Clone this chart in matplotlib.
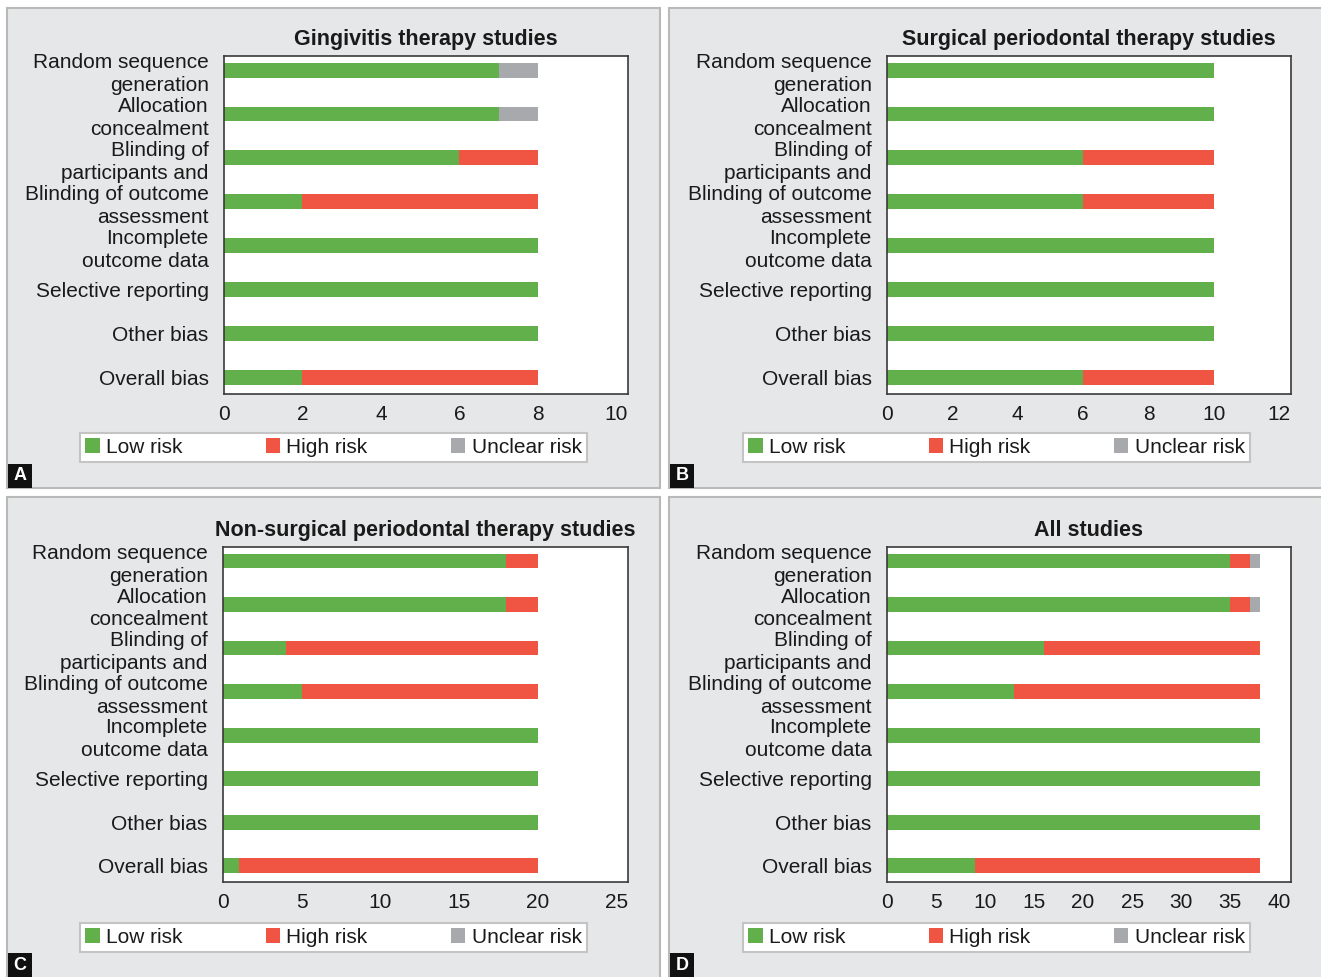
"""Risk-of-bias summary, four panels (A-D)."""
import matplotlib
matplotlib.use("Agg")
import matplotlib.pyplot as plt
from matplotlib.patches import Rectangle, Patch
import numpy as np

plt.rcParams["font.family"] = ["Liberation Sans", "DejaVu Sans"]

# ── Data ──────────────────────────────────────────────────────────────────
categories = ["Random sequence\ngeneration", "Allocation\nconcealment",
              "Blinding of\nparticipants and", "Blinding of outcome\nassessment",
              "Incomplete\noutcome data", "Selective reporting",
              "Other bias", "Overall bias"]

gingivitis_low = [7, 7, 6, 2, 8, 8, 8, 2]
gingivitis_high = [0, 0, 2, 6, 0, 0, 0, 6]
gingivitis_unclear = [1, 1, 0, 0, 0, 0, 0, 0]

surgical_low = [10, 10, 6, 6, 10, 10, 10, 6]
surgical_high = [0, 0, 4, 4, 0, 0, 0, 4]
surgical_unclear = [0, 0, 0, 0, 0, 0, 0, 0]

nonsurgical_low = [18, 18, 4, 5, 20, 20, 20, 1]
nonsurgical_high = [2, 2, 16, 15, 0, 0, 0, 19]
nonsurgical_unclear = [0, 0, 0, 0, 0, 0, 0, 0]

all_low = [35, 35, 16, 13, 38, 38, 38, 9]
all_high = [2, 2, 22, 25, 0, 0, 0, 29]
all_unclear = [1, 1, 0, 0, 0, 0, 0, 0]

titles = ["Gingivitis therapy studies", "Surgical periodontal therapy studies",
          "Non-surgical periodontal therapy studies", "All studies"]
xticks = [[0, 2, 4, 6, 8, 10], [0, 2, 4, 6, 8, 10, 12],
          [0, 5, 10, 15, 20, 25], [0, 5, 10, 15, 20, 25, 30, 35, 40]]
letters = ["A", "B", "C", "D"]

# ── Style ─────────────────────────────────────────────────────────────────
GREEN = "#62b04b"
RED = "#f05442"
GREY = "#a7a9ac"
PANEL = "#e6e7e8"
EDGE = "#b9b9b9"
TXT = "#1a1a1a"
FS = 15

W, H = 1321, 977
fig = plt.figure(figsize=(W / 100, H / 100), dpi=100)
fig.patch.set_facecolor("white")

def fx(px):
    return px / W

def fy(py):
    return 1 - py / H

# panel backgrounds (x0, y0, x1, y1 in px)
panels = [(7, 8, 660, 488), (669, 8, 1330, 488),
          (7, 497, 660, 985), (669, 497, 1330, 985)]
for x0, y0, x1, y1 in panels:
    fig.patches.append(Rectangle((fx(x0), fy(y1)), fx(x1 - x0), (y1 - y0) / H,
                                 transform=fig.transFigure, facecolor=PANEL,
                                 edgecolor=EDGE, linewidth=1.5, zorder=-5))

# axes boxes in px: left, top, right, bottom
boxes = [(224, 56, 628, 394), (887, 56, 1291, 394),
         (223, 547, 628, 882), (887, 547, 1291, 882)]
legend_boxes = [(80, 432, 587, 463), (743, 432, 1250, 463),
                (80, 922, 587, 953), (743, 922, 1250, 953)]

series = [
    (gingivitis_low, gingivitis_high, gingivitis_unclear),
    (surgical_low, surgical_high, surgical_unclear),
    (nonsurgical_low, nonsurgical_high, nonsurgical_unclear),
    (all_low, all_high, all_unclear),
]

y = np.arange(len(categories))
for i, (low, high, unclear) in enumerate(series):
    l, t, r, b = boxes[i]
    ax = fig.add_axes([fx(l), fy(b), fx(r - l), (b - t) / H])
    low = np.array(low)
    high = np.array(high)
    unclear = np.array(unclear)
    ax.barh(y, low, height=0.34, color=GREEN, zorder=2)
    ax.barh(y, high, left=low, height=0.34, color=RED, zorder=2)
    ax.barh(y, unclear, left=low + high, height=0.34, color=GREY, zorder=2)

    ax.set_ylim(7.37, -0.32)
    ax.set_xlim(0, xticks[i][-1] * 1.03)
    ax.set_xticks(xticks[i])
    ax.set_yticks(y)
    ax.set_yticklabels(categories, fontsize=FS, color=TXT,
                       linespacing=1.26)
    ax.tick_params(axis="both", length=0, labelsize=FS, colors=TXT)
    ax.tick_params(axis="y", pad=11)
    ax.tick_params(axis="x", pad=8)
    for s in ax.spines.values():
        s.set_color("#3a3a3a")
        s.set_linewidth(1.2)
    ax.set_title(titles[i], fontsize=15.5, fontweight="bold",
                 color=TXT, pad=8)

    # legend under each plot
    lx0, ly0, lx1, ly1 = legend_boxes[i]
    handles = [Patch(facecolor=GREEN, label="Low risk"),
               Patch(facecolor=RED, label="High risk"),
               Patch(facecolor=GREY, label="Unclear risk")]
    leg = ax.legend(handles=handles, ncol=3, mode="expand",
                    bbox_to_anchor=(fx(lx0), fy(ly1), fx(lx1 - lx0), (ly1 - ly0) / H),
                    bbox_transform=fig.transFigure, loc="center",
                    fontsize=FS, frameon=True, fancybox=False, framealpha=1,
                    handlelength=0.7, handleheight=0.7, handletextpad=0.3,
                    borderpad=0.25, borderaxespad=0)
    leg.get_frame().set_edgecolor("#c4c4c4")
    leg.get_frame().set_linewidth(1.5)
    for txt in leg.get_texts():
        txt.set_color(TXT)

    # panel letter
    px0 = panels[i][0] + 1
    py1 = panels[i][3] if i < 2 else 977
    fig.patches.append(Rectangle((fx(px0), fy(py1)), fx(24), 24 / H,
                                 transform=fig.transFigure, facecolor="#111111",
                                 edgecolor="none", zorder=5))
    fig.text(fx(px0 + 12), fy(py1 - 12), letters[i], color="white",
             fontsize=13, fontweight="bold", ha="center", va="center", zorder=6)

fig.savefig("out.png", dpi=100, facecolor=fig.get_facecolor())
